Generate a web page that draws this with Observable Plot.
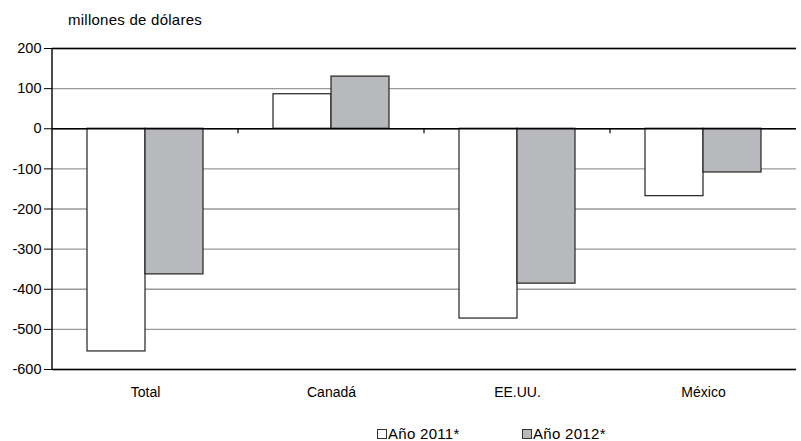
<!DOCTYPE html>
<html>
<head>
<meta charset="utf-8">
<script src="https://cdn.jsdelivr.net/npm/d3@7"></script>
<script src="https://cdn.jsdelivr.net/npm/@observablehq/plot@0.6"></script>
<style>
  html, body { margin: 0; padding: 0; background: #fff; }
  body { width: 801px; height: 441px; position: relative; overflow: hidden; color: #000;
         font-family: "Liberation Sans", Arial, sans-serif; }
  #title { position: absolute; left: 68px; top: 11px; font-size: 15px; letter-spacing: 0.25px; }
  #chart { position: absolute; left: 0; top: 0; }
  .leg { position: absolute; top: 425px; font-size: 15px; letter-spacing: 0.3px; display: flex; align-items: center; }
  .sw { width: 10px; height: 10px; border: 1px solid #333; box-sizing: border-box; margin-right: 1px; }
</style>
</head>
<body>
<div id="chart"></div>
<div id="title">millones de dólares</div>
<div id="legend"></div>
<script>
const categories = ["Total", "Canadá", "EE.UU.", "México"];
const seriesNames = ["Año 2011*", "Año 2012*"];
const values2011 = [-555, 86, -473, -168];
const values2012 = [-363, 130, -386, -109];
const yTicks = [200, 100, 0, -100, -200, -300, -400, -500, -600];
const seriesColors = ["#ffffff", "#b8b9bc"];

const data = [];
categories.forEach((c, i) => {
  data.push({cat: c, serie: seriesNames[0], value: values2011[i]});
  data.push({cat: c, serie: seriesNames[1], value: values2012[i]});
});

const W = 801, H = 405, mL = 52, mR = 5, mT = 48, mB = 36;

const plot = Plot.plot({
  width: W, height: H,
  marginLeft: mL, marginRight: mR, marginTop: mT, marginBottom: mB,
  style: {fontFamily: '"Liberation Sans", Arial, sans-serif', fontSize: "14px", color: "#000", background: "#fff"},
  fx: {domain: categories, padding: 0, axis: null},
  x: {domain: seriesNames, paddingInner: 0, paddingOuter: 0.6, axis: null},
  y: {domain: [-600, 200], axis: null},
  color: {domain: seriesNames, range: seriesColors},
  marks: [
    Plot.gridY(yTicks, {stroke: "#9a9a9a", strokeOpacity: 1, strokeWidth: 1.3}),
    Plot.ruleY([200, -600], {stroke: "#000", strokeWidth: 1.3}),
    Plot.barY(data, {fx: "cat", x: "serie", y: "value", fill: "serie", stroke: "#222", strokeWidth: 1.2}),
    Plot.ruleY([0], {stroke: "#000", strokeWidth: 1.3}),
    Plot.axisY({ticks: yTicks, tickSize: 8, tickPadding: 3, fontSize: 14.5, label: null, tickFormat: d => String(d)}),
    Plot.axisFx({anchor: "bottom", tickSize: 0, tickPadding: 18, fontSize: 14, label: null})
  ]
});

document.getElementById("chart").appendChild(plot);

// axis line and category separator ticks, positioned from Plot's scales
const fx = plot.scale("fx");
const y = plot.scale("y");
const svg = d3.select(plot);
const y0 = y.apply(0);
svg.append("line")
  .attr("x1", mL).attr("x2", mL)
  .attr("y1", y.apply(200)).attr("y2", y.apply(-600))
  .attr("stroke", "#000").attr("stroke-width", 1.4);
categories.slice(1).forEach(c => {
  const xb = fx.apply(c);
  svg.append("line")
    .attr("x1", xb).attr("x2", xb)
    .attr("y1", y0).attr("y2", y0 + 5)
    .attr("stroke", "#000").attr("stroke-width", 1.2);
});

// legend
const legendX = [377, 522];
const legend = document.getElementById("legend");
seriesNames.forEach((s, i) => {
  const item = document.createElement("div");
  item.className = "leg";
  item.style.left = legendX[i] + "px";
  const sw = document.createElement("div");
  sw.className = "sw";
  sw.style.background = seriesColors[i];
  const t = document.createElement("span");
  t.textContent = s;
  item.appendChild(sw);
  item.appendChild(t);
  legend.appendChild(item);
});
</script>
</body>
</html>
